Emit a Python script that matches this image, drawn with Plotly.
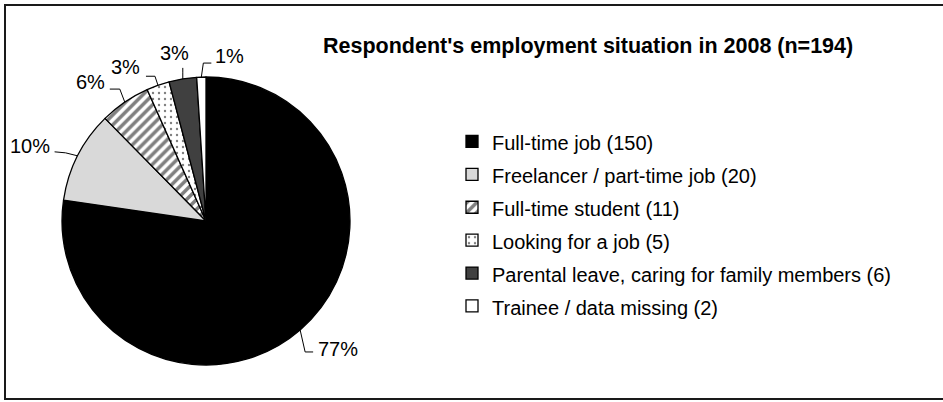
import numpy as np
import plotly.graph_objects as go

# Employment situation of respondents in 2008 (n=194)
categories = [
    "Full-time job (150)",
    "Freelancer / part-time job (20)",
    "Full-time student (11)",
    "Looking for a job (5)",
    "Parental leave, caring for family members (6)",
    "Trainee / data missing (2)",
]
counts = [150, 20, 11, 5, 6, 2]

fill_colors = ["#000000", "#d9d9d9", "#ffffff", "#ffffff", "#404040", "#ffffff"]
pattern_shapes = ["", "", "/", ".", "", ""]
pattern_sizes = [8, 8, 7, 6, 8, 8]
pattern_solidity = [0.3, 0.3, 0.5, 0.12, 0.3, 0.3]

# Figure geometry (pixels)
W, H = 943, 402
CX, CY, R = 206, 221, 144
FONT = "Liberation Sans, Arial, sans-serif"
LEGEND_TEXT_PX = 20   # rendered legend text size
LEGEND_ROW_PX = 23    # drives the legend row pitch

# Label layout, relative to the point where each slice's mid-angle meets the rim:
# elbow point, line end, text anchor, anchor sides
label_layout = [
    dict(elbow=(5, 22), end=(13, 22), text=(16, 19), xa="left", ya="middle"),
    dict(elbow=(-12, -3), end=(-23, -4), text=(-26, -10), xa="right", ya="middle"),
    dict(elbow=(-5, -13), end=(-15, -13), text=(-18, -20), xa="right", ya="middle"),
    dict(elbow=(-3, -9), end=(-12, -9), text=(-16, -18), xa="right", ya="middle"),
    dict(elbow=(0, -6), end=(0, -11), text=(-8, -13), xa="center", ya="bottom"),
    dict(elbow=(2, -14), end=(10, -14), text=(12, -21), xa="left", ya="middle"),
]


def px(x):
    return x / W


def py(y):
    return 1 - y / H


values = np.array(counts, dtype=float)
shares = values / values.sum()
mid_frac = np.cumsum(shares) - shares / 2
mid_angle = np.deg2rad(mid_frac * 360.0)  # clockwise from 12 o'clock

legend_labels = [
    f'<span style="font-size:{LEGEND_TEXT_PX}px">{c}</span>' for c in categories
]

fig = go.Figure(
    go.Pie(
        labels=legend_labels,
        values=counts,
        sort=False,
        direction="clockwise",
        rotation=0,
        marker=dict(
            colors=fill_colors,
            line=dict(color="#000000", width=1.3),
            pattern=dict(
                shape=pattern_shapes,
                fgcolor="#000000",
                bgcolor="#ffffff",
                size=pattern_sizes,
                solidity=pattern_solidity,
                fillmode="overlay",
            ),
        ),
        textinfo="none",
        domain=dict(x=[px(CX - R), px(CX + R)], y=[py(CY + R), py(CY - R)]),
        hoverinfo="label+percent",
    )
)

annotations = []
shapes = []
for share, ang, lay in zip(shares, mid_angle, label_layout):
    ex = CX + R * np.sin(ang)
    ey = CY - R * np.cos(ang)
    kx, ky = ex + lay["elbow"][0], ey + lay["elbow"][1]
    tx, ty = ex + lay["end"][0], ey + lay["end"][1]
    shapes.append(
        dict(
            type="path",
            xref="paper",
            yref="paper",
            path=f"M {px(ex)},{py(ey)} L {px(kx)},{py(ky)} L {px(tx)},{py(ty)}",
            line=dict(color="#000000", width=1),
        )
    )
    annotations.append(
        dict(
            text=f"{share * 100:.0f}%",
            x=px(ex + lay["text"][0]),
            y=py(ey + lay["text"][1]),
            xref="paper",
            yref="paper",
            xanchor=lay["xa"],
            yanchor=lay["ya"],
            showarrow=False,
            font=dict(family=FONT, size=20, color="#000000"),
        )
    )

annotations.append(
    dict(
        text="<b>Respondent's employment situation in 2008 (n=194)</b>",
        x=px(588),
        y=py(46),
        xref="paper",
        yref="paper",
        xanchor="center",
        yanchor="middle",
        showarrow=False,
        font=dict(family=FONT, size=21.5, color="#000000"),
    )
)

# outer chart frame
shapes.append(
    dict(
        type="rect",
        xref="paper",
        yref="paper",
        x0=px(5),
        x1=1.02,
        y0=py(399),
        y1=py(5),
        line=dict(color="#1a1a1a", width=2),
        fillcolor="rgba(0,0,0,0)",
    )
)

fig.update_layout(
    width=W,
    height=H,
    margin=dict(l=0, r=0, t=0, b=0),
    paper_bgcolor="#ffffff",
    font=dict(family=FONT, color="#000000"),
    showlegend=True,
    legend=dict(
        x=px(452),
        y=py(120),
        xanchor="left",
        yanchor="top",
        font=dict(family=FONT, size=LEGEND_ROW_PX, color="#000000"),
        bgcolor="rgba(0,0,0,0)",
        tracegroupgap=0,
    ),
    annotations=annotations,
    shapes=shapes,
)

fig.write_html("out.html")
